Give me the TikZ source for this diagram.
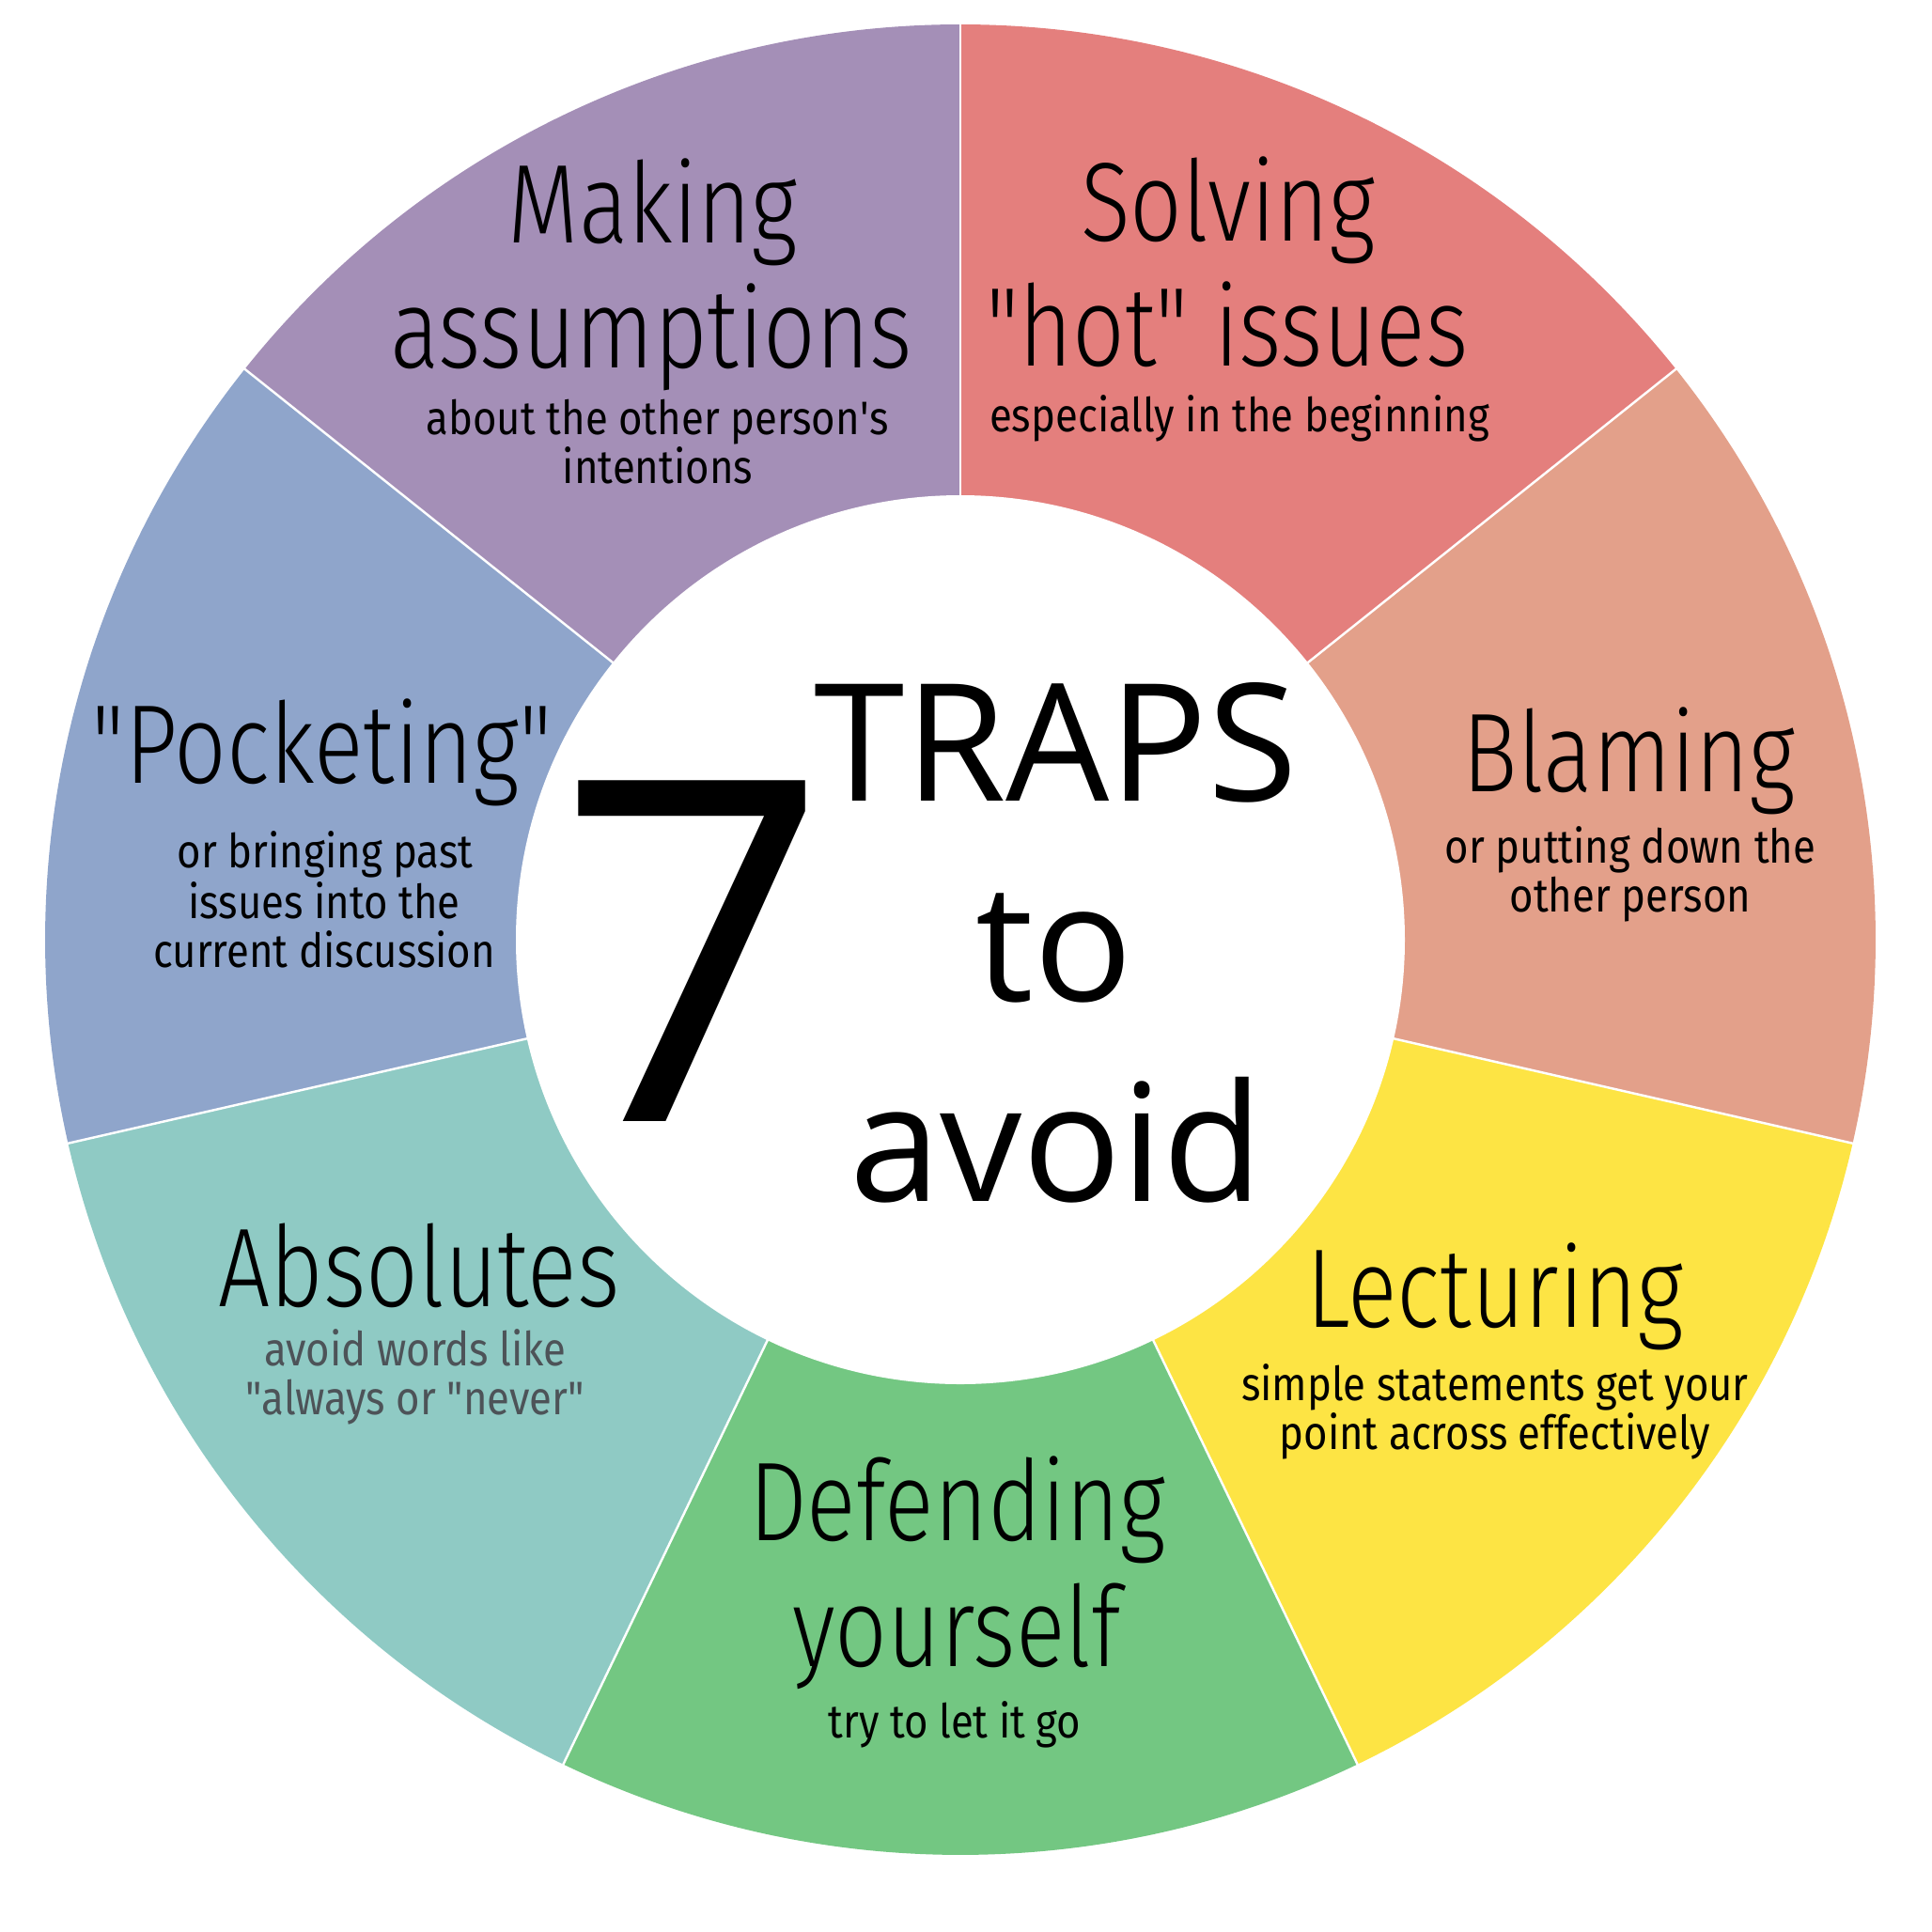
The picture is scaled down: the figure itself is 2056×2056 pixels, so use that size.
\documentclass[tikz,border=0pt]{standalone}
\usepackage{fontspec}
\usetikzlibrary{calc}
\setmainfont{Fira Sans}
\newfontfamily\titlef{Fira Sans Light}[FakeStretch=0.82]
\newfontfamily\subf{Fira Sans}[FakeStretch=0.875]
\newfontfamily\centerf{Open Sans}
\definecolor{cPurple}{HTML}{A48FB7}
\definecolor{cRed}{HTML}{E47F7D}
\definecolor{cSalmon}{HTML}{E3A08A}
\definecolor{cYellow}{HTML}{FDE444}
\definecolor{cGreen}{HTML}{73C782}
\definecolor{cTeal}{HTML}{8FCAC4}
\definecolor{cBlue}{HTML}{8FA5CB}
\definecolor{cGray}{HTML}{4D5358}
\begin{document}
\begin{tikzpicture}[x=0.01cm,y=-0.01cm,
  ttl/.style={font=\titlef\fontsize{33.9}{40}\selectfont, inner sep=0pt, anchor=base, text=black},
  sub/.style={font=\subf\fontsize{14.2}{17}\selectfont, inner sep=0pt, anchor=base, text=black},
  ctr/.style={font=\centerf\fontsize{49.5}{58}\selectfont, inner sep=0pt, anchor=base, text=black},
  divider/.style={draw=white, line width=0.7pt}]
\useasboundingbox (0,0) rectangle (2056,2056);
\coordinate (c) at (1022,1000);
% sectors (angles negated because y points down)
\fill[cPurple] (c) -- ++(-90:974) arc[start angle=-90, end angle=-141.429, radius=974] -- cycle;
\fill[cRed] (c) -- ++(-38.571:974) arc[start angle=-38.571, end angle=-90, radius=974] -- cycle;
\fill[cSalmon] (c) -- ++(12.857:974) arc[start angle=12.857, end angle=-38.571, radius=974] -- cycle;
\fill[cYellow] (c) -- ++(64.286:974) arc[start angle=64.286, end angle=12.857, radius=974] -- cycle;
\fill[cGreen] (c) -- ++(115.714:974) arc[start angle=115.714, end angle=64.286, radius=974] -- cycle;
\fill[cTeal] (c) -- ++(167.143:974) arc[start angle=167.143, end angle=115.714, radius=974] -- cycle;
\fill[cBlue] (c) -- ++(-141.429:974) arc[start angle=-141.429, end angle=-192.857, radius=974] -- cycle;
% dividers
\foreach \a in {-90,-38.571,12.857,64.286,115.714,167.143,-141.429}
  \draw[divider] ($(c)+(\a:400)$) -- ($(c)+(\a:976)$);
% inner circle
\fill[white] (c) circle[radius=473];
% purple
\node[ttl] (m1) at (695,258) {Making};
\node[ttl] (m2) at (693,391) {assumptions};
\node[sub] (m3) at (700,462) {about the other person\textquotesingle s};
\node[sub] (m4) at (700,514) {intentions};
% red
\node[ttl] (s1) at (1307,256) {Solving};
\node[ttl] (s2) at (1306,389) {"hot" issues};
\node[sub] (s3) at (1319,459) {especially in the beginning};
% salmon
\node[ttl] (b1) at (1734,842) {Blaming};
\node[sub] (b2) at (1735,918) {or putting down the};
\node[sub] (b3) at (1735,970) {other person};
% yellow
\node[ttl] (l1) at (1591,1412) {Lecturing};
\node[sub] (l2) at (1591,1490) {simple statements get your};
\node[sub] (l3) at (1591,1542) {point across effectively};
% green
\node[ttl] (d1) at (1019,1639) {Defending};
\node[ttl] (d2) at (1018,1773) {yourself};
\node[sub] (d3) at (1016,1849) {try to let it go};
% teal
\node[ttl] (a1) at (446,1390) {Absolutes};
\node[sub, text=cGray] (a2) at (442,1453) {avoid words like};
\node[sub, text=cGray] (a3) at (442,1505) {"always or "never"};
% blue
\node[ttl] (p1) at (343,833) {"Pocketing"};
\node[sub] (p2) at (346,923) {or bringing past};
\node[sub] (p3) at (345,977) {issues into the};
\node[sub] (p4) at (345,1029) {current discussion};
% center
\node[font=\centerf\fontsize{144.5}{150}\selectfont, inner sep=0pt, anchor=base] (seven) at (738,1193) {7};
\node[ctr] (traps) at (1124,852) {TRAPS};
\node[ctr] (to) at (1122,1065) {to};
\node[ctr] (avoid) at (1124,1278) {avoid};
\end{tikzpicture}
\end{document}
